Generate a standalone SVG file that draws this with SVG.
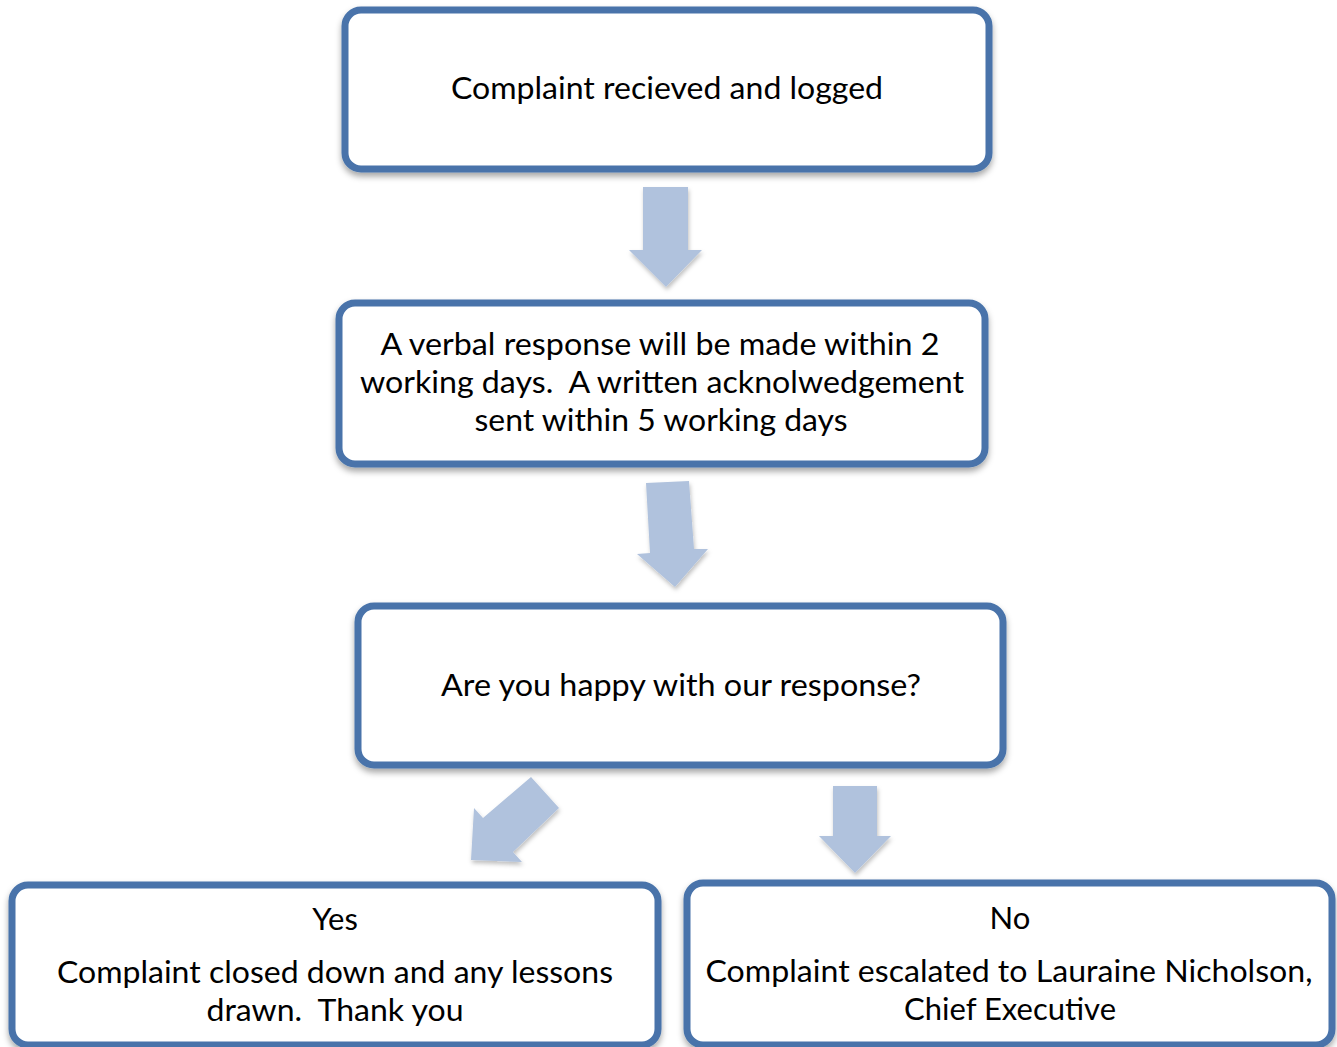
<svg xmlns="http://www.w3.org/2000/svg" width="1337" height="1047" viewBox="0 0 1337 1047">
<defs>
<filter id="sh" x="-5%" y="-10%" width="110%" height="130%">
<feDropShadow dx="0" dy="4" stdDeviation="3" flood-color="#000" flood-opacity="0.35"/>
</filter>
<filter id="ash" x="-20%" y="-20%" width="140%" height="140%">
<feDropShadow dx="1" dy="3" stdDeviation="2" flood-color="#000" flood-opacity="0.25"/>
</filter>
</defs>
<style>
.box{fill:#fff;stroke:#4873AA;stroke-width:7;filter:url(#sh)}
.arr{fill:#B0C2DD;filter:url(#ash)}
text{font-family:Lato,"Liberation Sans",sans-serif;font-size:31px;fill:#000;text-anchor:middle;white-space:pre}
</style>
<rect width="1337" height="1047" fill="#fff"/>
<g id="connectors">
<polygon class="arr" points="643,187 688,187 688,250 702,250 666,287 629,250 643,250"/>
<polygon class="arr" points="646,483 689,481 694,549 708,549 675,587 637,554 650,553"/>
<polygon class="arr" points="531,777 559,808 513,852 522,862 471,860 474,808 483,818"/>
<polygon class="arr" points="833,786 877,786 877,836 891,836 855,873 819,836 833,836"/>
</g>
<g id="n1">
<rect class="box" x="345" y="10" width="644" height="159" rx="16"/>
<text x="667" y="99" textLength="432" lengthAdjust="spacingAndGlyphs">Complaint recieved and logged</text>
</g>
<g id="n2">
<rect class="box" x="339" y="303" width="646" height="161" rx="16"/>
<text x="660" y="355" textLength="559" lengthAdjust="spacingAndGlyphs">A verbal response will be made within 2</text>
<text x="662" y="393" textLength="604" lengthAdjust="spacingAndGlyphs">working days.  A written acknolwedgement</text>
<text x="661" y="431" textLength="373" lengthAdjust="spacingAndGlyphs">sent within 5 working days</text>
</g>
<g id="n3">
<rect class="box" x="358" y="606" width="645" height="159" rx="16"/>
<text x="681" y="696" textLength="480" lengthAdjust="spacingAndGlyphs">Are you happy with our response?</text>
</g>
<g id="n4">
<rect class="box" x="12" y="885" width="646" height="160" rx="16"/>
<text x="335" y="930">Yes</text>
<text x="335" y="983" textLength="556" lengthAdjust="spacingAndGlyphs">Complaint closed down and any lessons</text>
<text x="335" y="1021" textLength="257" lengthAdjust="spacingAndGlyphs">drawn.  Thank you</text>
</g>
<g id="n5">
<rect class="box" x="687" y="883" width="645" height="162" rx="16"/>
<text x="1010" y="929">No</text>
<text x="1009" y="982" textLength="607" lengthAdjust="spacingAndGlyphs">Complaint escalated to Lauraine Nicholson,</text>
<text x="1010" y="1020" textLength="212" lengthAdjust="spacingAndGlyphs">Chief Executive</text>
</g>
</svg>
